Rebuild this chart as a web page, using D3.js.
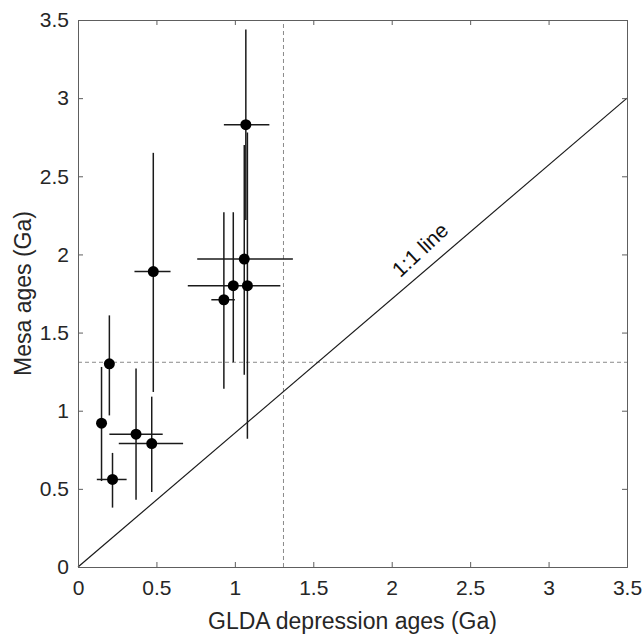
<!DOCTYPE html>
<html>
<head>
    <script src="https://d3js.org/d3.v7.min.js"></script>
    <style>
        body { margin: 0; background: #fff; }
        svg { display: block; font-family: 'Liberation Sans', Arial, sans-serif; }
        .axis path, .axis line { stroke: #5e5e5e; stroke-width: 1; }
        .axis text { fill: #262626; font-size: 21px; }
        .guide { stroke: #8a8a8a; stroke-width: 1; stroke-dasharray: 4,3; }
        .bar { stroke: #1a1a1a; stroke-width: 1.5; }
        .label { fill: #262626; font-size: 23px; text-anchor: middle; }
    </style>
</head>
<body>
<div id="chart"></div>
<script>
    // point values (Ga)
    const glda    = [0.15, 0.22, 0.20, 0.37, 0.47, 0.48, 1.07, 1.06, 1.08, 0.99, 0.93];
    const mesa    = [0.92, 0.56, 1.30, 0.85, 0.79, 1.89, 2.83, 1.97, 1.80, 1.80, 1.71];
    const gldaLo  = [0.15, 0.12, 0.20, 0.20, 0.26, 0.36, 0.93, 0.76, 0.70, 0.99, 0.85];
    const gldaHi  = [0.15, 0.31, 0.20, 0.54, 0.67, 0.59, 1.22, 1.37, 1.29, 0.99, 1.00];
    const mesaLo  = [0.55, 0.38, 0.97, 0.43, 0.48, 1.12, 2.22, 1.23, 0.82, 1.31, 1.14];
    const mesaHi  = [1.28, 0.73, 1.61, 1.27, 1.09, 2.65, 3.44, 2.70, 2.78, 2.27, 2.27];

    const tickVals = [0, 0.5, 1, 1.5, 2, 2.5, 3, 3.5];
    const refLine = [[0, 0], [3.5, 3.0]];
    const cutoff = 1.31;

    const width = 643, height = 635;
    const x = d3.scaleLinear().domain([0, 3.5]).range([78, 627]);
    const y = d3.scaleLinear().domain([0, 3.5]).range([567, 20]);

    const svg = d3.select('#chart').append('svg')
        .attr('width', width)
        .attr('height', height);

    const pts = glda.map((v, i) => ({
        x: v, y: mesa[i], x0: gldaLo[i], x1: gldaHi[i], y0: mesaLo[i], y1: mesaHi[i]
    }));

    // dashed cut-off lines
    svg.append('line').attr('class', 'guide')
        .attr('x1', x(cutoff)).attr('x2', x(cutoff))
        .attr('y1', y(0)).attr('y2', y(3.5));
    svg.append('line').attr('class', 'guide')
        .attr('x1', x(0)).attr('x2', x(3.5))
        .attr('y1', y(cutoff)).attr('y2', y(cutoff));

    // reference line
    svg.append('path')
        .datum(refLine)
        .attr('fill', 'none')
        .attr('stroke', '#1a1a1a')
        .attr('stroke-width', 1.2)
        .attr('d', d3.line().x(d => x(d[0])).y(d => y(d[1])));

    svg.append('text')
        .attr('transform', `translate(${x(2.18)},${y(2.03)}) rotate(-43)`)
        .attr('text-anchor', 'middle')
        .attr('dominant-baseline', 'central')
        .attr('fill', '#111')
        .style('font-size', '21px')
        .text('1:1 line');

    // error bars
    const g = svg.append('g');
    g.selectAll('line.v').data(pts).join('line')
        .attr('class', 'bar v')
        .attr('x1', d => x(d.x)).attr('x2', d => x(d.x))
        .attr('y1', d => y(d.y0)).attr('y2', d => y(d.y1));
    g.selectAll('line.h').data(pts.filter(d => d.x1 > d.x0)).join('line')
        .attr('class', 'bar h')
        .attr('x1', d => x(d.x0)).attr('x2', d => x(d.x1))
        .attr('y1', d => y(d.y)).attr('y2', d => y(d.y));
    g.selectAll('circle').data(pts).join('circle')
        .attr('cx', d => x(d.x)).attr('cy', d => y(d.y))
        .attr('r', 5.5)
        .attr('fill', '#000');

    // axes, ticks pointing inward on all four sides
    svg.append('g').attr('class', 'axis')
        .attr('transform', `translate(0,${y(0)})`)
        .call(d3.axisBottom(x).tickValues(tickVals).tickFormat(d => d).tickSize(-5).tickPadding(13));
    svg.append('g').attr('class', 'axis')
        .attr('transform', `translate(${x(0)},0)`)
        .call(d3.axisLeft(y).tickValues(tickVals).tickFormat(d => d).tickSize(-5).tickPadding(9));
    svg.append('g').attr('class', 'axis')
        .attr('transform', `translate(0,${y(3.5)})`)
        .call(d3.axisTop(x).tickValues(tickVals).tickFormat('').tickSize(-5));
    svg.append('g').attr('class', 'axis')
        .attr('transform', `translate(${x(3.5)},0)`)
        .call(d3.axisRight(y).tickValues(tickVals).tickFormat('').tickSize(-5));

    svg.append('text').attr('class', 'label')
        .attr('x', (x(0) + x(3.5)) / 2)
        .attr('y', 629)
        .text('GLDA depression ages (Ga)');
    svg.append('text').attr('class', 'label')
        .attr('transform', `translate(31,${(y(0) + y(3.5)) / 2}) rotate(-90)`)
        .text('Mesa ages (Ga)');
</script>
</body>
</html>
